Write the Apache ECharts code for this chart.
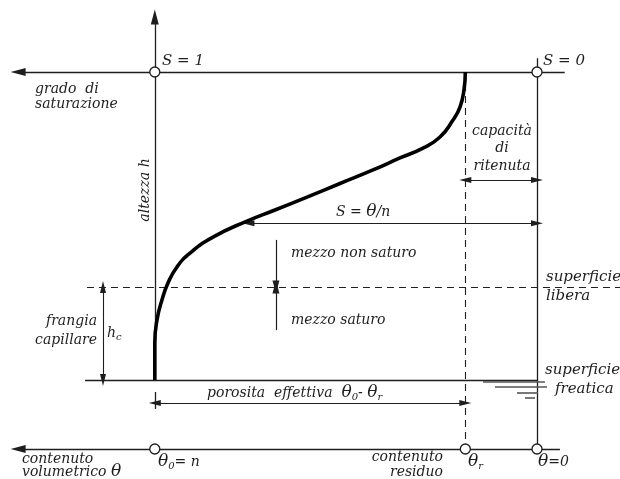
<!DOCTYPE html>
<html><head><meta charset="utf-8">
<script src="https://cdn.jsdelivr.net/npm/echarts@6/dist/echarts.min.js"></script>
<style>html,body{margin:0;padding:0;background:#fff}#c{width:620px;height:479px}</style>
</head><body><div id="c"></div>
<script>
// Retention curve: volumetric water content θ vs height h above the water table
const curveTheta  = [0.400, 0.400, 0.3977, 0.3925, 0.3862, 0.3768, 0.3632, 0.3391, 0.3035, 0.2742, 0.2407, 0.2062, 0.1716, 0.1434, 0.1193, 0.1015, 0.0879, 0.0806, 0.0764, 0.075];
const curveHeight = [0,     12.0,  19.5,   26.0,   31.5,   36.7,   41.2,   46.4,   51.6,   55.2,   59.4,   63.8,   68.2,   72.1,   75.3,   78.9,   84.4,   88.6,   94.2,   100];

// key values
const thetaN = 0.40;      // θ0 = n (porosity)
const thetaR = 0.075;     // θr residual content
const thetaZero = 0;      // θ = 0
const hSat = 100;         // S = 1 / S = 0 reference level
const hCap = 30.2;        // hc, free surface (capillary fringe top)
const hWater = 0;         // water table
const hAxis = -22.4;      // θ axis level
const hTopArrow = 117.9;  // top of the h axis
const thetaLeftEnd = 0.543, thetaRightTop = -0.029, thetaRightAxis = -0.024;
const thetaDashLeft = 0.471, thetaDashRight = -0.087, thetaFreaticaLeft = 0.473;
const hRightTop = 104.5;
const hArrowS = 50.9, thetaArrowS = 0.302;
const hArrowCap = 64.9;
const hArrowPor = -7.5, hPorTick = [-3.9, -9.4];
const thetaHc = 0.4542;
const thetaMezzo = 0.2732, hNonSat = 45.5, hSatStart = 16.2;
// water table symbol: [thetaFrom, thetaTo, h]
const waterMarks = [[0.0565, -0.0084, -0.65], [0.0440, -0.0105, -2.3], [0.0209, -0.0010, -4.2], [0.0126, 0.0021, -5.8]];

const INK = '#1e1e1e';
const chart = echarts.init(document.getElementById('c'), null, {renderer: 'canvas'});
const curve = curveTheta.map((t, i) => [t, curveHeight[i]]);
const seg = (a, b) => ({coords: [a, b]});
const HEAD = 'path://M5,0L10,20L0,20Z';

const plainLines = [
  seg([thetaZero, hRightTop], [thetaZero, hAxis]),
  seg([thetaFreaticaLeft, hWater], [thetaZero, hWater]),
  seg([thetaN, hPorTick[0]], [thetaN, hPorTick[1]])
];
const leftArrowLines = [
  seg([thetaN, hWater], [thetaN, hTopArrow]),
  seg([thetaRightTop, hSat], [thetaLeftEnd, hSat]),
  seg([thetaRightAxis, hAxis], [thetaLeftEnd, hAxis])
];
const smallArrowLines = [
  seg([thetaMezzo, hNonSat], [thetaMezzo, hCap]),
  seg([thetaMezzo, hSatStart], [thetaMezzo, hCap])
];
const doubleArrowLines = [
  seg([thetaArrowS, hArrowS], [thetaZero, hArrowS]),
  seg([thetaR, hArrowCap], [thetaZero, hArrowCap]),
  seg([thetaN, hArrowPor], [thetaR, hArrowPor]),
  seg([thetaHc, hWater], [thetaHc, hCap])
];
const dashedLines = [
  seg([thetaR, hSat], [thetaR, hAxis]),
  seg([thetaDashLeft, hCap], [thetaDashRight, hCap])
];
const waterLines = waterMarks.map(w => seg([w[0], w[2]], [w[1], w[2]]));
const circles = [[thetaN, hSat], [thetaZero, hSat], [thetaN, hAxis], [thetaR, hAxis], [thetaZero, hAxis]];

const FF = '"DejaVu Serif", "Liberation Serif", serif';
const F = 'italic 14px ' + FF;
function txt(text, x, y, opt) {
  opt = opt || {};
  return {type: 'text', x: x, y: y, rotation: opt.rot || 0, z: 10,
    style: {text: text, font: opt.font || F, fill: INK,
      align: opt.align || 'left', verticalAlign: 'middle'}};
}
const rich = {
  t: {font: 'italic 17px ' + FF, fill: INK},
  s: {font: 'italic 10px ' + FF, fill: INK, verticalAlign: 'bottom', padding: [8, 0, 0, 0]},
  n: {font: F, fill: INK}
};
function rtxt(text, x, y) {
  return {type: 'text', x: x, y: y, z: 10, style: {text: text, rich: rich, font: F, fill: INK, verticalAlign: 'middle'}};
}
const lineBase = {type: 'lines', coordinateSystem: 'cartesian2d', silent: true};

const option = {
  animation: false,
  backgroundColor: '#fff',
  grid: {left: 0, right: 0, top: 0, bottom: 0, outerBoundsMode: 'none'},
  xAxis: {type: 'value', inverse: true, min: -0.08687, max: 0.5620, show: false},
  yAxis: {type: 'value', min: -32.14, max: 123.38, show: false},
  series: [
    Object.assign({data: plainLines, lineStyle: {color: INK, width: 1.3, opacity: 1}, symbol: ['none', 'none']}, lineBase),
    Object.assign({data: leftArrowLines, lineStyle: {color: INK, width: 1.3, opacity: 1}, symbol: ['none', HEAD], symbolSize: [[8, 15], [8, 15]]}, lineBase),
    Object.assign({data: smallArrowLines, lineStyle: {color: INK, width: 1.2, opacity: 1}, symbol: ['none', HEAD], symbolSize: [[7, 13], [7, 13]]}, lineBase),
    Object.assign({data: doubleArrowLines, lineStyle: {color: INK, width: 1.1, opacity: 1}, symbol: [HEAD, HEAD], symbolSize: [[6, 12], [6, 12]]}, lineBase),
    Object.assign({data: dashedLines, lineStyle: {color: INK, width: 1.1, opacity: 1, type: [7, 5]}, symbol: ['none', 'none']}, lineBase),
    Object.assign({data: waterLines, lineStyle: {color: '#555', width: 1.6, opacity: 1}, symbol: ['none', 'none']}, lineBase),
    {type: 'line', data: curve, smooth: 0.5, showSymbol: false, lineStyle: {color: '#000', width: 3.6}, z: 5, silent: true},
    {type: 'scatter', data: circles, symbol: 'circle', symbolSize: 10, itemStyle: {color: '#fff', borderColor: INK, borderWidth: 1.3, opacity: 1}, z: 6, silent: true}
  ],
  graphic: [
    txt('S = 1', 162, 61, {font: 'italic 15px ' + FF}),
    txt('S = 0', 543, 61, {font: 'italic 15px ' + FF}),
    txt('grado  di', 35, 89),
    txt('saturazione', 35, 104),
    txt('altezza h', 145, 190, {rot: Math.PI / 2, align: 'center'}),
    txt('capacità', 502, 131, {align: 'center'}),
    txt('di', 502, 148, {align: 'center'}),
    txt('ritenuta', 502, 166, {align: 'center'}),
    rtxt('{n|S = }{t|θ}{n|/n}', 336, 212),
    txt('mezzo non saturo', 291, 253),
    txt('mezzo saturo', 291, 320),
    txt('superficie', 546, 277, {font: 'italic 15px ' + FF}),
    txt('libera', 546, 296, {font: 'italic 15px ' + FF}),
    txt('frangia', 97, 321, {align: 'right'}),
    txt('capillare', 97, 340, {align: 'right'}),
    rtxt('{n|h}{s|c}', 107, 333),
    txt('superficie', 545, 370, {font: 'italic 15px ' + FF}),
    txt('freatica', 555, 389, {font: 'italic 15px ' + FF}),
    rtxt('{n|porosita  effettiva  }{t|θ}{s|0}{n|- }{t|θ}{s|r}', 207, 393),
    txt('contenuto', 22, 459),
    rtxt('{n|volumetrico }{t|θ}', 22, 472),
    rtxt('{t|θ}{s|0}{n|= n}', 158, 462),
    txt('contenuto', 443, 457, {align: 'right'}),
    txt('residuo', 443, 472, {align: 'right'}),
    rtxt('{t|θ}{s|r}', 468, 462),
    rtxt('{t|θ}{n|=0}', 538, 462)
  ]
};
chart.setOption(option);
</script></body></html>
